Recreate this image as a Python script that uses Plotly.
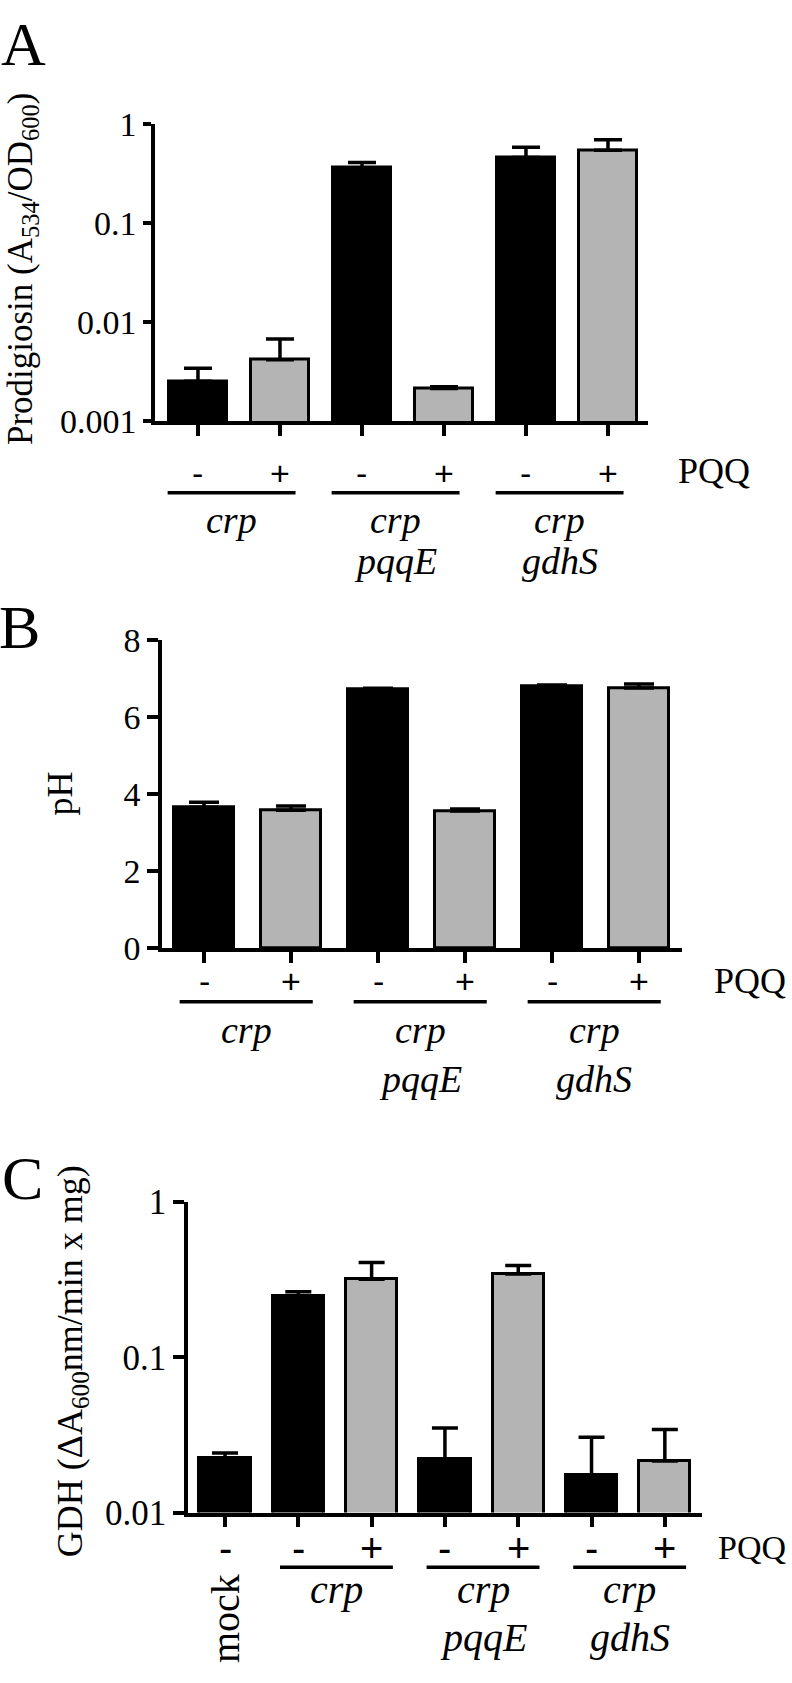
import plotly.graph_objects as go

W, H = 792, 1683
SERIF = "Liberation Serif"
SANS = "Liberation Sans"
BLACK = "#000000"
GREY = "#b4b4b4"

# ---------------- data ----------------
# Panel A : prodigiosin (log scale)
a_values = [0.00255, 0.0042, 0.364, 0.00215, 0.464, 0.548]
a_err_top = [0.00345, 0.0068, 0.414, 0.00224, 0.59, 0.70]
a_pqq = ["-", "+", "-", "+", "-", "+"]
a_colors = [BLACK, GREY, BLACK, GREY, BLACK, GREY]

# Panel B : pH (linear)
b_values = [3.66, 3.58, 6.73, 3.56, 6.81, 6.76]
b_err_top = [3.79, 3.69, 6.75, 3.61, 6.84, 6.86]
b_pqq = ["-", "+", "-", "+", "-", "+"]
b_colors = [BLACK, GREY, BLACK, GREY, BLACK, GREY]

# Panel C : GDH activity (log scale)
c_values = [0.0225, 0.249, 0.318, 0.0222, 0.343, 0.0174, 0.0215]
c_err_top = [0.0242, 0.264, 0.407, 0.035, 0.39, 0.0305, 0.0343]
c_pqq = ["-", "-", "+", "-", "+", "-", "+"]
c_colors = [BLACK, BLACK, GREY, BLACK, GREY, BLACK, GREY]

strain_line1 = ["crp", "crp", "crp"]
strain_line2 = ["", "pqqE", "gdhS"]

a_ticks = [0.001, 0.01, 0.1, 1]
a_ticktext = ["0.001", "0.01", "0.1", "1"]
b_ticks = [0, 2, 4, 6, 8]
c_ticks = [0.01, 0.1, 1]
c_ticktext = ["0.01", "0.1", "1"]


def px_x(p):
    return p / W


def px_y(p):
    return 1 - p / H


fig = go.Figure()


def add_bars(values, tops, colors, xa, ya, cap):
    xs = list(range(len(values)))
    fig.add_trace(go.Bar(
        x=xs, y=values, width=0.70,
        marker=dict(color=colors, line=dict(color=BLACK, width=3)),
        error_y=dict(type="data", symmetric=False,
                     array=[t - v for t, v in zip(tops, values)],
                     arrayminus=[0] * len(values),
                     color=BLACK, thickness=3.5, width=cap),
        xaxis=xa, yaxis=ya, showlegend=False, hoverinfo="skip"))


add_bars(a_values, a_err_top, a_colors, "x", "y", 14)
add_bars(b_values, b_err_top, b_colors, "x2", "y2", 15)
add_bars(c_values, c_err_top, c_colors, "x3", "y3", 13)

axis_common = dict(showline=True, linewidth=3.5, linecolor=BLACK, showgrid=False,
                   zeroline=False, ticks="outside", tickwidth=3.5, tickcolor=BLACK,
                   fixedrange=True)

fig.update_layout(
    width=W, height=H, margin=dict(l=0, r=0, t=0, b=0),
    paper_bgcolor="white", plot_bgcolor="white", bargap=0,
    font=dict(family=SERIF, color=BLACK),
    xaxis=dict(domain=[px_x(155), px_x(648)], anchor="y", range=[-0.524, 5.488],
               tickvals=list(range(6)), showticklabels=False, ticklen=11, **axis_common),
    yaxis=dict(domain=[px_y(412), px_y(108)], anchor="x", type="log", range=[-3, 0],
               tickvals=a_ticks, ticktext=a_ticktext, ticklen=8,
               tickfont=dict(family=SERIF, size=34, color=BLACK), **axis_common),
    xaxis2=dict(domain=[px_x(162), px_x(682)], anchor="y2", range=[-0.483, 5.494],
                tickvals=list(range(6)), showticklabels=False, ticklen=11, **axis_common),
    yaxis2=dict(domain=[px_y(951), px_y(636)], anchor="x2", range=[0, 8],
                tickvals=b_ticks, ticktext=[str(t) for t in b_ticks], ticklen=11,
                tickfont=dict(family=SERIF, size=34, color=BLACK), **axis_common),
    xaxis3=dict(domain=[px_x(188), px_x(702)], anchor="y3", range=[-0.505, 6.507],
                tickvals=list(range(7)), showticklabels=False, ticklen=11, **axis_common),
    yaxis3=dict(domain=[px_y(1529), px_y(1211)], anchor="x3", type="log", range=[-2, 0],
                tickvals=c_ticks, ticktext=c_ticktext, ticklen=11,
                tickfont=dict(family=SERIF, size=35, color=BLACK), **axis_common),
)

ann = []
shapes = []


def text(x, y, s, size, family=SERIF, xref="paper", angle=0, xanchor="center"):
    ann.append(dict(x=x, y=y, xref=xref, yref="paper", text=s, showarrow=False,
                    xanchor=xanchor, yanchor="middle", textangle=angle,
                    font=dict(family=family, size=size, color=BLACK)))


def labels(xref, pqq, pm_y, pm_size, groups_start, rel0, rel1, line_y,
           l1_y, l2_y, lab_size, pqq_xy, pqq_size):
    for i, s in enumerate(pqq):
        text(i, px_y(pm_y), s, pm_size, SANS, xref=xref)
    for g, st in enumerate(groups_start):
        shapes.append(dict(type="line", xref=xref, yref="paper",
                           x0=st + rel0, x1=st + 1 + rel1,
                           y0=px_y(line_y), y1=px_y(line_y),
                           line=dict(color=BLACK, width=3.5)))
        mid = st + (rel0 + 1 + rel1) / 2
        text(mid, px_y(l1_y), "<i>%s</i>" % strain_line1[g], lab_size, xref=xref)
        if strain_line2[g]:
            text(mid, px_y(l2_y), "<i>%s</i>" % strain_line2[g], lab_size, xref=xref)
    text(px_x(pqq_xy[0]), px_y(pqq_xy[1]), "PQQ", pqq_size)


labels("x", a_pqq, 465, 34, [0, 2, 4], -0.37, 0.19, 485, 513, 555, 38, (714, 463), 36)
labels("x2", b_pqq, 985, 34, [0, 2, 4], -0.28, 0.25, 1006, 1035, 1085, 38, (750, 985), 36)
labels("x3", c_pqq, 1565, 40, [1, 3, 5], -0.25, 0.29, 1585, 1608, 1657, 40, (752, 1565), 34)

# mock label (rotated) under first bar of C
text(0, px_y(1638), "mock", 40, xref="x3", angle=-90)

# panel letters
text(px_x(23), px_y(26), "A", 62)
text(px_x(19), px_y(622), "B", 62)
text(px_x(22), px_y(1187), "C", 62)

# axis titles
text(px_x(22), px_y(256), "Prodigiosin (A<sub>534</sub>/OD<sub>600</sub>)", 35, angle=-90)
text(px_x(60), px_y(793), "pH", 36, angle=-90)
text(px_x(72), px_y(1374), "GDH (\u0394A<sub>600</sub>nm/min x mg)", 36, angle=-90)

fig.update_layout(annotations=ann, shapes=shapes)
fig.write_html(
    "out.html",
    config={"displayModeBar": False},
    post_script="document.body.style.margin='0';document.body.style.overflow='hidden';",
)
